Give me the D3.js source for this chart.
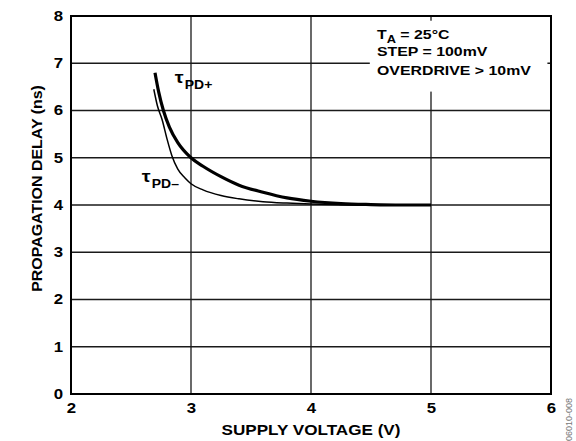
<!DOCTYPE html>
<html>
<head>
<meta charset="utf-8">
<script src="https://cdn.jsdelivr.net/npm/d3@7"></script>
<style>
  body { margin: 0; background: #fff; }
  svg { display: block; font-family: "Liberation Sans", Arial, sans-serif; font-weight: bold; }
</style>
</head>
<body>
<svg id="chart" width="576" height="441"></svg>
<script>
// supply voltage (V) vs propagation delay (ns)
var tpdPlusV = [2.70, 2.73, 2.77, 2.82, 2.89, 3.00, 3.10, 3.25, 3.40, 3.60, 3.80, 4.00, 4.25, 4.50, 4.75, 5.00];
var tpdPlusNs = [6.80, 6.40, 6.00, 5.65, 5.32, 5.00, 4.82, 4.60, 4.42, 4.27, 4.15, 4.08, 4.03, 4.01, 4.00, 4.00];
var tpdMinusV = [2.69, 2.72, 2.76, 2.80, 2.84, 2.89, 2.95, 3.00, 3.10, 3.25, 3.40, 3.60, 3.80, 4.00, 4.50, 5.00];
var tpdMinusNs = [6.45, 6.10, 5.80, 5.40, 5.05, 4.76, 4.57, 4.45, 4.32, 4.20, 4.13, 4.07, 4.04, 4.02, 4.00, 4.00];
var xTicks = [2, 3, 4, 5, 6];
var yTicks = [0, 1, 2, 3, 4, 5, 6, 7, 8];
var notes = ["STEP = 100mV", "OVERDRIVE > 10mV"];

(function () {
    var svg = d3.select('#chart');
    var left = 71, right = 551, top = 16, bottom = 394;

    var x = d3.scaleLinear().domain([2, 6]).range([left, right]);
    var y = d3.scaleLinear().domain([0, 8]).range([bottom, top]);

    // stretch text horizontally (the original lettering is wide)
    function widen(sel, k) {
        sel.each(function () {
            var w = this.getComputedTextLength();
            d3.select(this).attr('textLength', w * k).attr('lengthAdjust', 'spacingAndGlyphs');
        });
    }

    // grid
    svg.append('g').selectAll('line').data(yTicks.slice(1, -1)).enter().append('line')
        .attr('x1', left).attr('x2', right)
        .attr('y1', function (d) { return y(d); }).attr('y2', function (d) { return y(d); })
        .attr('stroke', '#1a1a1a').attr('stroke-width', 1.3);
    svg.append('g').selectAll('line').data(xTicks.slice(1, -1)).enter().append('line')
        .attr('y1', top).attr('y2', bottom)
        .attr('x1', function (d) { return x(d); }).attr('x2', function (d) { return x(d); })
        .attr('stroke', '#1a1a1a').attr('stroke-width', 1.3);

    // white box behind conditions text
    svg.append('rect')
        .attr('x', x(4.49)).attr('y', y(7.9))
        .attr('width', x(5.97) - x(4.49)).attr('height', y(6.4) - y(7.9))
        .attr('fill', '#fff');

    // curves
    var line = d3.line()
        .x(function (d) { return x(d[0]); })
        .y(function (d) { return y(d[1]); })
        .curve(d3.curveMonotoneX);

    svg.append('path')
        .datum(d3.zip(tpdMinusV, tpdMinusNs))
        .attr('d', line).attr('fill', 'none')
        .attr('stroke', '#000').attr('stroke-width', 1.5);
    svg.append('path')
        .datum(d3.zip(tpdPlusV, tpdPlusNs))
        .attr('d', line).attr('fill', 'none')
        .attr('stroke', '#000').attr('stroke-width', 3.2);

    // frame
    svg.append('rect')
        .attr('x', left).attr('y', top)
        .attr('width', right - left).attr('height', bottom - top)
        .attr('fill', 'none').attr('stroke', '#000').attr('stroke-width', 2);

    // axes labels
    var xAxis = svg.append('g').attr('transform', 'translate(0,' + bottom + ')')
        .call(d3.axisBottom(x).tickValues(xTicks).tickSize(0).tickPadding(9).tickFormat(d3.format('d')));
    var yAxis = svg.append('g').attr('transform', 'translate(' + left + ',0)')
        .call(d3.axisLeft(y).tickValues(yTicks).tickSize(0).tickPadding(8).tickFormat(d3.format('d')));
    [xAxis, yAxis].forEach(function (g) {
        g.select('.domain').remove();
        g.selectAll('text').attr('font-size', 14).attr('font-family', null)
            .attr('font-weight', 'bold').attr('fill', '#000');
    });
    widen(xAxis.selectAll('text'), 1.2);
    widen(yAxis.selectAll('text'), 1.2);

    var xt = svg.append('text')
        .attr('x', x(4)).attr('y', 435)
        .attr('text-anchor', 'middle').attr('font-size', 15)
        .text('SUPPLY VOLTAGE (V)');
    widen(xt, 1.14);

    var yt = svg.append('text')
        .attr('transform', 'translate(42,' + y(4.35) + ') rotate(-90)')
        .attr('text-anchor', 'middle').attr('font-size', 14.5)
        .text('PROPAGATION DELAY (ns)');
    widen(yt, 1.1);

    // conditions
    var cond = svg.append('g').attr('font-size', 13);
    var ta = cond.append('text').attr('x', x(4.55)).attr('y', y(7.52));
    ta.append('tspan').text('T');
    ta.append('tspan').attr('font-size', 10.5).attr('dy', 4).text('A');
    ta.append('tspan').attr('dy', -4).text(' = 25°C');
    widen(ta, 1.22);
    cond.selectAll('text.note').data(notes).enter().append('text')
        .attr('class', 'note')
        .attr('x', x(4.55))
        .attr('y', function (d, i) { return y(7.52) + 17.5 * (i + 1) + i * 1.5; })
        .text(function (d) { return d; })
        .call(widen, 1.22);

    // curve labels
    function tauLabel(v, ns, sub) {
        var t = svg.append('text').attr('x', x(v)).attr('y', y(ns));
        t.append('tspan').attr('font-size', 17).text('τ');
        t.append('tspan').attr('font-size', 12).attr('dy', 6).attr('dx', 1).text(sub);
        return t;
    }
    widen(tauLabel(2.865, 6.58, 'PD+'), 1.2);
    widen(tauLabel(2.59, 4.48, 'PD–'), 1.2);

    // figure id
    svg.append('text')
        .attr('transform', 'translate(572,441) rotate(-90)')
        .attr('font-size', 9).attr('font-weight', 'normal').attr('fill', '#777')
        .text('06010-008');
})();
</script>
</body>
</html>
